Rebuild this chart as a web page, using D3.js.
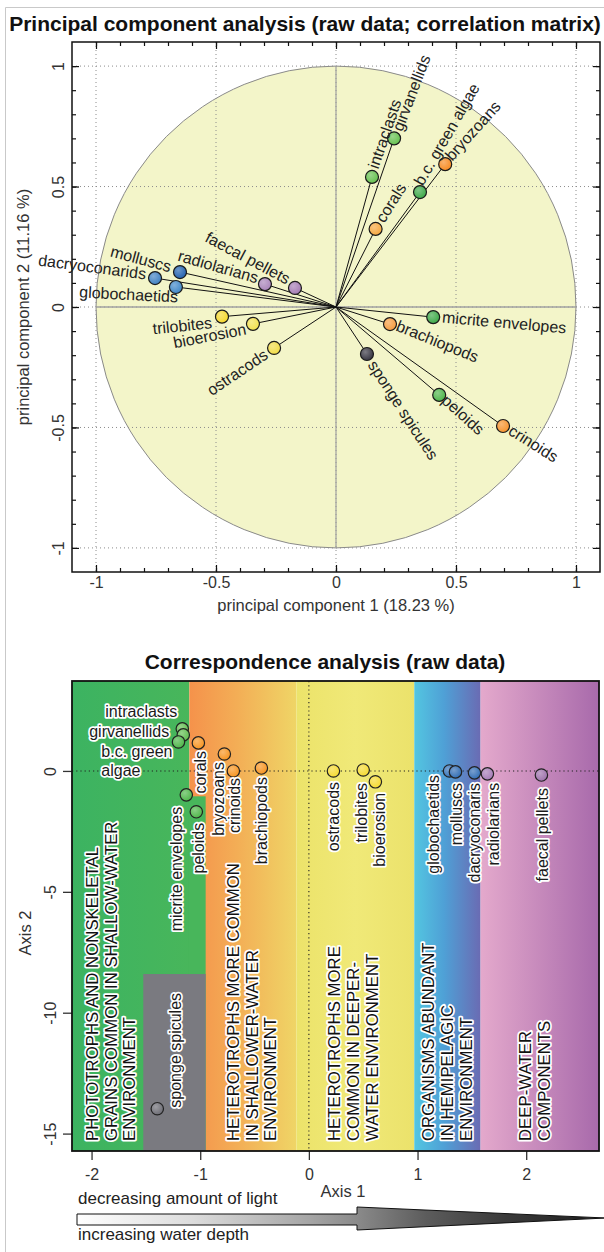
<!DOCTYPE html>
<html>
<head>
<meta charset="utf-8">
<script src="https://cdn.jsdelivr.net/npm/d3@7"></script>
<style>
  html, body { margin: 0; padding: 0; background: #fff; }
  svg { display: block; font-family: "Liberation Sans", Arial, Helvetica, sans-serif; }
</style>
</head>
<body>
<svg id="chart" width="604" height="1252"></svg>
<script>
// ---------- PCA loadings (correlation matrix) ----------
const pcaNames = ["intraclasts", "girvanellids", "b.c. green algae", "bryozoans", "corals",
  "micrite envelopes", "brachiopods", "peloids", "crinoids", "sponge spicules",
  "ostracods", "bioerosion", "trilobites", "globochaetids", "dacryoconarids",
  "molluscs", "radiolarians", "faecal pellets"];
const pcaPC1 = [0.150, 0.242, 0.350, 0.455, 0.165, 0.405, 0.225, 0.430, 0.696, 0.129,
  -0.258, -0.346, -0.475, -0.667, -0.754, -0.650, -0.296, -0.171];
const pcaPC2 = [0.540, 0.700, 0.477, 0.593, 0.324, -0.042, -0.071, -0.365, -0.494, -0.195,
  -0.170, -0.070, -0.040, 0.083, 0.120, 0.145, 0.095, 0.079];
const pcaColors = ["#63c04c", "#63c04c", "#3aa845", "#f7891f", "#f6a63c",
  "#3aa845", "#f59b3d", "#4cb548", "#f7922a", "#34333f",
  "#f1dc45", "#f2e04c", "#f4d72a", "#3d86c6", "#3d7fc2",
  "#1f5fae", "#a883b8", "#a47ab3"];
const pcaTicksMajor = [-1, -0.5, 0, 0.5, 1];
const pcaTicksMinor = d3.range(-10, 11).map(i => i / 10);

// ---------- Correspondence analysis scores ----------
const caNames = ["intraclasts", "girvanellids", "b.c. green algae", "corals", "bryozoans",
  "crinoids", "brachiopods", "micrite envelopes", "peloids", "ostracods",
  "trilobites", "bioerosion", "globochaetids", "molluscs", "dacryoconaris",
  "radiolarians", "faecal pellets", "sponge spicules"];
const caAxis1 = [-1.165, -1.156, -1.200, -1.017, -0.778, -0.695, -0.437, -1.128, -1.036, 0.226,
  0.500, 0.612, 1.294, 1.349, 1.524, 1.643, 2.140, -1.395];
const caAxis2 = [1.74, 1.49, 1.20, 1.16, 0.70, 0.00, 0.12, -0.99, -1.69, 0.00,
  0.04, -0.45, 0.00, -0.04, -0.08, -0.12, -0.17, -13.97];
const caColors = ["#5dbb4c", "#5dbb4c", "#4cb547", "#f7931e", "#f7931e",
  "#f7931e", "#f7931e", "#4cb547", "#4cb547", "#f5da2f",
  "#f5da2f", "#f5da2f", "#3272b8", "#2f6cb3", "#2f6cb3",
  "#a47bb6", "#9c70aa", "#6a6a72"];
const caTicksX = [-2, -1, 0, 1, 2];
const caTicksY = [0, -5, -10, -15];

// environment bands along axis 1 (data units)
const bandEdges = [-1.10, -0.115, 0.97, 1.58];
const bandTexts = [
  ["PHOTOTROPHS AND NONSKELETAL", "GRAINS COMMON IN SHALLOW-WATER", "ENVIRONMENT"],
  ["HETEROTROPHS MORE COMMON", "IN SHALLOWER-WATER", "ENVIRONMENT"],
  ["HETEROTROPHS MORE", "COMMON IN DEEPER-", "WATER ENVIRONMENT"],
  ["ORGANISMS ABUNDANT", "IN HEMIPELAGIC", "ENVIRONMENT"],
  ["DEEP-WATER", "COMPONENTS"]
];
const bandTextX = [-1.998, -0.70, 0.234, 1.10, 1.99];
const spongeBox = { x0: -1.524, x1: -0.95, y1: -8.4 };
const greenStep = { x1: -0.95, y: -1.05 };

const svg = d3.select("#chart");
const defs = svg.append("defs");

// thin panel frame
svg.append("path").attr("d", "M5.5,1252V7.5H604")
  .attr("fill", "none").attr("stroke", "#c9c9c9").attr("stroke-width", 1);

// shaded marker gradients
const gradCache = {};
function ballFill(color) {
  if (gradCache[color]) return gradCache[color];
  const id = "ball" + Object.keys(gradCache).length;
  const g = defs.append("radialGradient").attr("id", id)
    .attr("cx", "38%").attr("cy", "35%").attr("r", "70%");
  g.append("stop").attr("offset", "0%").attr("stop-color", d3.interpolateRgb(color, "#fff")(0.35));
  g.append("stop").attr("offset", "100%").attr("stop-color", color);
  gradCache[color] = `url(#${id})`;
  return gradCache[color];
}
function linGrad(id, stops) {
  const g = defs.append("linearGradient").attr("id", id)
    .attr("x1", "0%").attr("x2", "100%").attr("y1", "0%").attr("y2", "0%");
  stops.forEach(([o, c]) => g.append("stop").attr("offset", o).attr("stop-color", c));
  return `url(#${id})`;
}

// =================== PCA panel ===================
const px = d3.scaleLinear().domain([-1.1, 1.1]).range([72, 600]);
const py = d3.scaleLinear().domain([-1.1, 1.1]).range([572, 42]);
const pca = svg.append("g");

svg.append("text").attr("x", 305).attr("y", 31).attr("text-anchor", "middle")
  .attr("font-size", 21).attr("font-weight", "bold").attr("fill", "#111")
  .text("Principal component analysis (raw data; correlation matrix)");

// unit correlation circle
pca.append("ellipse")
  .attr("cx", px(0)).attr("cy", py(0))
  .attr("rx", px(1) - px(0)).attr("ry", py(0) - py(1))
  .attr("fill", "#f3f5c9").attr("stroke", "#8a8a8a").attr("stroke-width", 1);

// dotted grid
pca.append("g").selectAll("line.gx").data(pcaTicksMajor).join("line")
  .attr("x1", d => px(d)).attr("x2", d => px(d)).attr("y1", py(1.1)).attr("y2", py(-1.1))
  .attr("stroke", "#8c8c8c").attr("stroke-width", 1).attr("stroke-dasharray", "1,3");
pca.append("g").selectAll("line.gy").data(pcaTicksMajor).join("line")
  .attr("y1", d => py(d)).attr("y2", d => py(d)).attr("x1", px(-1.1)).attr("x2", px(1.1))
  .attr("stroke", "#8c8c8c").attr("stroke-width", 1).attr("stroke-dasharray", "1,3");

// circle diameters
pca.append("line").attr("x1", px(-1)).attr("x2", px(1)).attr("y1", py(0)).attr("y2", py(0))
  .attr("stroke", "#a0a0a0").attr("stroke-width", 1.6);
pca.append("line").attr("x1", px(0)).attr("x2", px(0)).attr("y1", py(1)).attr("y2", py(-1))
  .attr("stroke", "#a0a0a0").attr("stroke-width", 1.2);

// axes with inward ticks on all four sides
const fmt = d => String(d);
function frameAxis(axis, transform, withLabels) {
  const gMinor = pca.append("g").attr("transform", transform)
    .call(axis(withLabels.scale).tickValues(pcaTicksMinor).tickSize(-4).tickSizeOuter(0).tickFormat(""));
  gMinor.select(".domain").remove();
  const gMajor = pca.append("g").attr("transform", transform)
    .call(axis(withLabels.scale).tickValues(pcaTicksMajor).tickSize(-7).tickSizeOuter(0)
      .tickFormat(withLabels.show ? fmt : ""));
  gMajor.select(".domain").remove();
  [gMinor, gMajor].forEach(g => g.selectAll(".tick line").attr("stroke", "#111").attr("stroke-width", 1.2));
  return gMajor;
}
const pBottom = frameAxis(d3.axisBottom, `translate(0,${py(-1.1)})`, { scale: px, show: true });
pBottom.selectAll("text").attr("y", 16).attr("dy", 0)
  .attr("font-size", 16).attr("fill", "#333").attr("font-family", null);
frameAxis(d3.axisTop, `translate(0,${py(1.1)})`, { scale: px, show: false });
const pLeft = frameAxis(d3.axisLeft, `translate(${px(-1.1)},0)`, { scale: py, show: true });
pLeft.selectAll("text").attr("transform", "rotate(-90)").attr("x", 0).attr("y", -8).attr("dy", 0)
  .attr("text-anchor", "middle").attr("font-size", 16).attr("fill", "#333").attr("font-family", null);
frameAxis(d3.axisRight, `translate(${px(1.1)},0)`, { scale: py, show: false });

pca.append("rect").attr("x", px(-1.1)).attr("y", py(1.1))
  .attr("width", px(1.1) - px(-1.1)).attr("height", py(-1.1) - py(1.1))
  .attr("fill", "none").attr("stroke", "#111").attr("stroke-width", 1.5);

svg.append("text").attr("x", px(0)).attr("y", 611).attr("text-anchor", "middle")
  .attr("font-size", 16.5).attr("fill", "#333").text("principal component 1 (18.23 %)");
svg.append("text").attr("transform", `translate(29,${py(0)}) rotate(-90)`).attr("text-anchor", "middle")
  .attr("font-size", 16.5).attr("fill", "#333").text("principal component 2 (11.16 %)");

const pcaData = pcaNames.map((n, i) => ({ name: n, x: pcaPC1[i], y: pcaPC2[i], color: pcaColors[i] }));

// vectors from the origin
pca.append("g").selectAll("line").data(pcaData).join("line")
  .attr("x1", px(0)).attr("y1", py(0))
  .attr("x2", d => px(d.x)).attr("y2", d => py(d.y))
  .attr("stroke", "#111").attr("stroke-width", 1);

// label placement: rotation (deg) and offset of the text anchor from its marker
const pcaLabelLayout = {
  "intraclasts": { ang: -71, dx: 1, dy: -9 },
  "girvanellids": { ang: -69, dx: 3, dy: -8 },
  "corals": { ang: -58, dx: 4, dy: -8 },
  "b.c. green algae": { ang: -60, dx: -2, dy: -8 },
  "bryozoans": { ang: -48, dx: 3, dy: -6 },
  "micrite envelopes": { ang: 5, dx: 9, dy: 0 },
  "brachiopods": { ang: 22, dx: 7, dy: 1 },
  "peloids": { ang: 42, dx: 5, dy: 3 },
  "crinoids": { ang: 32, dx: 7, dy: 3 },
  "sponge spicules": { ang: 57, dx: 5, dy: 8 },
  "ostracods": { ang: -34, dx: -8, dy: 5 },
  "bioerosion": { ang: -11, dx: -7, dy: 5 },
  "trilobites": { ang: -6, dx: -10, dy: 6 },
  "globochaetids": { ang: 3, dx: 2, dy: 10 },
  "dacryoconarids": { ang: 7.5, dx: -9, dy: -4 },
  "molluscs": { ang: 15, dx: -9, dy: -5 },
  "radiolarians": { ang: 16, dx: -7, dy: -6 },
  "faecal pellets": { ang: 28, dx: -6, dy: -8 }
};

pca.append("g").selectAll("circle").data(pcaData).join("circle")
  .attr("cx", d => px(d.x)).attr("cy", d => py(d.y)).attr("r", 6.5)
  .attr("fill", d => ballFill(d.color)).attr("stroke", "#1a1a1a").attr("stroke-width", 1.2);

pca.append("g").selectAll("text").data(pcaData).join("text")
  .attr("transform", d => {
    const L = pcaLabelLayout[d.name];
    return `translate(${px(d.x) + L.dx},${py(d.y) + L.dy}) rotate(${L.ang})`;
  })
  .attr("text-anchor", d => d.x < 0 ? "end" : "start")
  .attr("dominant-baseline", "central")
  .attr("font-size", 16).attr("fill", "#222")
  .text(d => d.name);

// =================== Correspondence analysis panel ===================
const cx = d3.scaleLinear().domain([-2.18, 2.67]).range([72, 599]);
const cy = d3.scaleLinear().domain([-15.72, 3.72]).range([1151, 681]);
const ca = svg.append("g");

svg.append("text").attr("x", 325).attr("y", 669).attr("text-anchor", "middle")
  .attr("font-size", 21).attr("font-weight", "bold").attr("fill", "#111")
  .text("Correspondence analysis (raw data)");

const xL = cx.domain()[0], xR = cx.domain()[1];
const yT = cy.domain()[1], yB = cy.domain()[0];
const bandFills = [
  linGrad("gGreen", [["0%", "#3cb361"], ["100%", "#48b65b"]]),
  linGrad("gOrange", [["0%", "#f5924b"], ["45%", "#f3ae56"], ["100%", "#efd566"]]),
  linGrad("gYellow", [["0%", "#ece36a"], ["50%", "#f0e978"], ["100%", "#ebe26b"]]),
  linGrad("gBlue", [["0%", "#53c6e1"], ["45%", "#4fa0d6"], ["100%", "#6a6bb3"]]),
  linGrad("gPurple", [["0%", "#e4a9cc"], ["100%", "#a86aab"]])
];
const edges = [xL, ...bandEdges, xR];
const bands = d3.range(5).map(i => ({ x0: edges[i], x1: edges[i + 1], fill: bandFills[i] }));

ca.append("g").selectAll("rect").data(bands).join("rect")
  .attr("x", d => cx(d.x0)).attr("y", cy(yT))
  .attr("width", d => cx(d.x1) - cx(d.x0)).attr("height", cy(yB) - cy(yT))
  .attr("fill", d => d.fill);
// shallow-water zone widens below the upper cluster
ca.append("rect").attr("x", cx(bandEdges[0]) - 0.5).attr("y", cy(greenStep.y))
  .attr("width", cx(greenStep.x1) - cx(bandEdges[0]) + 0.5).attr("height", cy(yB) - cy(greenStep.y))
  .attr("fill", "#48b65b");
// sponge spicule field
ca.append("rect").attr("x", cx(spongeBox.x0)).attr("y", cy(spongeBox.y1))
  .attr("width", cx(spongeBox.x1) - cx(spongeBox.x0)).attr("height", cy(yB) - cy(spongeBox.y1))
  .attr("fill", "#7a7a80");

// zero reference lines
ca.append("line").attr("x1", cx(xL)).attr("x2", cx(xR)).attr("y1", cy(0)).attr("y2", cy(0))
  .attr("stroke", "#222").attr("stroke-width", 1.1).attr("stroke-dasharray", "1.2,3");
ca.append("line").attr("x1", cx(0)).attr("x2", cx(0)).attr("y1", cy(yT)).attr("y2", cy(yB))
  .attr("stroke", "#222").attr("stroke-width", 1.1).attr("stroke-dasharray", "1.2,3");

// environment captions
const halo = sel => sel.attr("stroke", "#fff").attr("stroke-width", 3.5)
  .attr("stroke-linejoin", "round").attr("paint-order", "stroke");
bandTexts.forEach((lines, bi) => {
  lines.forEach((t, li) => {
    ca.append("text")
      .attr("transform", `translate(${cx(bandTextX[bi]) + li * 18.8 + 6},1141) rotate(-90)`)
      .attr("font-size", 16.8).attr("fill", "#111").call(halo).text(t);
  });
});

// axes
const cBottom = ca.append("g").attr("transform", `translate(0,${cy(yB)})`)
  .call(d3.axisBottom(cx).tickValues(caTicksX).tickSize(9).tickSizeOuter(0).tickFormat(fmt));
cBottom.select(".domain").remove();
cBottom.selectAll(".tick line").attr("stroke", "#333").attr("stroke-width", 1.3);
cBottom.selectAll("text").attr("y", 29).attr("dy", 0).attr("font-size", 16).attr("fill", "#333").attr("font-family", null);
const cLeft = ca.append("g").attr("transform", `translate(${cx(xL)},0)`)
  .call(d3.axisLeft(cy).tickValues(caTicksY).tickSize(9).tickSizeOuter(0).tickFormat(fmt));
cLeft.select(".domain").remove();
cLeft.selectAll(".tick line").attr("stroke", "#333").attr("stroke-width", 1.3);
cLeft.selectAll("text").attr("transform", "rotate(-90)").attr("x", 0).attr("y", -16).attr("dy", 0)
  .attr("text-anchor", "middle").attr("font-size", 16).attr("fill", "#333").attr("font-family", null);

ca.append("rect").attr("x", cx(xL)).attr("y", cy(yT))
  .attr("width", cx(xR) - cx(xL)).attr("height", cy(yB) - cy(yT))
  .attr("fill", "none").attr("stroke", "#111").attr("stroke-width", 1.8);

svg.append("text").attr("x", 343).attr("y", 1197).attr("text-anchor", "middle")
  .attr("font-size", 16.5).attr("fill", "#333").text("Axis 1");
svg.append("text").attr("transform", `translate(31,933) rotate(-90)`).attr("text-anchor", "middle")
  .attr("font-size", 16.5).attr("fill", "#333").text("Axis 2");

const caData = caNames.map((n, i) => ({ name: n, x: caAxis1[i], y: caAxis2[i], color: caColors[i] }));

ca.append("g").selectAll("circle").data(caData).join("circle")
  .attr("cx", d => cx(d.x)).attr("cy", d => cy(d.y)).attr("r", 6.2)
  .attr("fill", d => ballFill(d.color)).attr("stroke", "#222").attr("stroke-width", 1.2);

// label placement relative to each marker
const caLabelLayout = {
  "intraclasts": { rot: 0, anchor: "end", dx: -5, dy: -17 },
  "girvanellids": { rot: 0, anchor: "end", dx: -14, dy: -3 },
  "b.c. green algae": { rot: 0, anchor: "end", dx: -6, dy: 10, wrap: ["b.c. green", "algae"] },
  "corals": { rot: -90, anchor: "end", dx: 2, dy: 8 },
  "bryozoans": { rot: -90, anchor: "end", dx: -6, dy: 8 },
  "crinoids": { rot: -90, anchor: "end", dx: 1, dy: 7 },
  "brachiopods": { rot: -90, anchor: "end", dx: 0, dy: 9 },
  "micrite envelopes": { rot: -90, anchor: "end", dx: -10, dy: 12 },
  "peloids": { rot: -90, anchor: "end", dx: 2, dy: 11 },
  "ostracods": { rot: -90, anchor: "end", dx: 0, dy: 11 },
  "trilobites": { rot: -90, anchor: "end", dx: -2, dy: 13 },
  "bioerosion": { rot: -90, anchor: "end", dx: 4, dy: 11 },
  "globochaetids": { rot: -90, anchor: "end", dx: -16, dy: 4 },
  "molluscs": { rot: -90, anchor: "end", dx: 1, dy: 11 },
  "dacryoconaris": { rot: -90, anchor: "end", dx: 0, dy: 10 },
  "radiolarians": { rot: -90, anchor: "end", dx: 6, dy: 9 },
  "faecal pellets": { rot: -90, anchor: "end", dx: 1, dy: 13 },
  "sponge spicules": { rot: -90, anchor: "start", dx: 18, dy: -1 }
};
const caLabels = ca.append("g");
caData.forEach(d => {
  const L = caLabelLayout[d.name];
  const x = cx(d.x) + L.dx, y = cy(d.y) + L.dy;
  const first = caLabels.append("text")
    .attr("transform", `translate(${x},${y}) rotate(${L.rot})`)
    .attr("text-anchor", L.anchor).attr("dominant-baseline", "central")
    .attr("font-size", 16).attr("fill", "#1a1a1a").call(halo)
    .text(L.wrap ? L.wrap[0] : d.name);
  if (L.wrap) {
    const w = first.node().getComputedTextLength();
    caLabels.append("text")
      .attr("transform", `translate(${x - w},${y + 19})`)
      .attr("dominant-baseline", "central")
      .attr("font-size", 16).attr("fill", "#1a1a1a").call(halo)
      .text(L.wrap[1]);
  }
});

// =================== depth / light arrow ===================
const arrowFill = linGrad("gArrow", [["0%", "#ffffff"], ["22%", "#dcdcdc"], ["44%", "#a5a5a5"],
  ["53%", "#8a8a8a"], ["66%", "#5c5c5c"], ["81%", "#3a3a3a"], ["100%", "#1e1e1e"]]);
const arrowPts = [[77, 1214], [357, 1214], [357, 1207], [606, 1218], [357, 1230], [357, 1225], [77, 1225]];
svg.append("path").attr("d", d3.line()(arrowPts) + "Z")
  .attr("fill", arrowFill).attr("stroke", "#111").attr("stroke-width", 1);
svg.append("text").attr("x", 78).attr("y", 1204).attr("font-size", 17).attr("fill", "#222")
  .text("decreasing amount of light");
svg.append("text").attr("x", 78).attr("y", 1240).attr("font-size", 17).attr("fill", "#222")
  .text("increasing water depth");
</script>
</body>
</html>
